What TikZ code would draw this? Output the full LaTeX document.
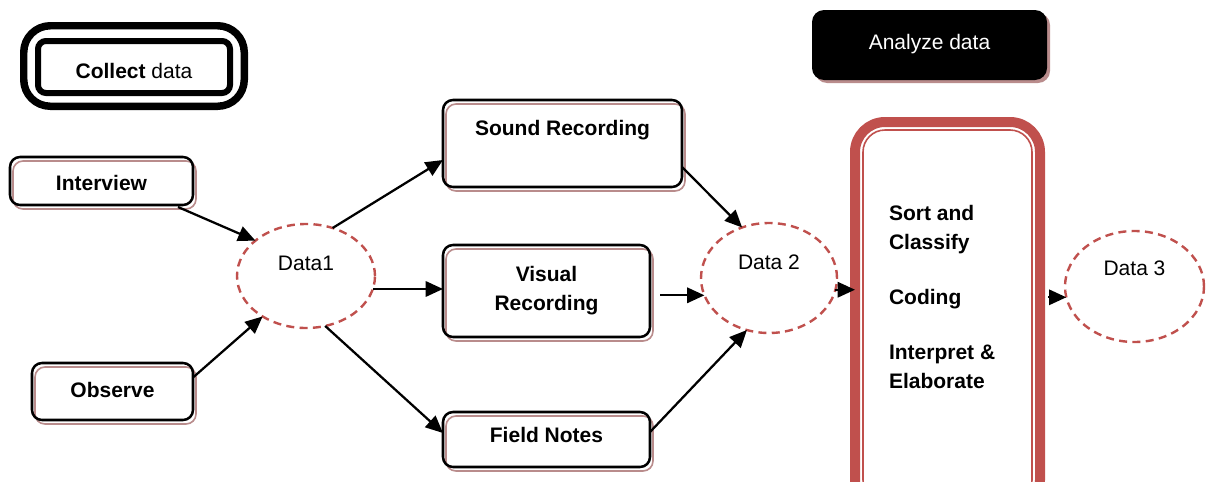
\documentclass[tikz,border=0pt]{standalone}
\usepackage{fontspec}
\setmainfont{Liberation Sans}
\usetikzlibrary{arrows.meta,calc,shapes.geometric}
\definecolor{datared}{RGB}{192,80,77}
\definecolor{shadowbrown}{RGB}{185,140,140}
% shift a one-line label up or down without changing its box size
\newcommand{\lift}[2]{\raisebox{#1}[0pt][0pt]{#2}}

\begin{document}
\begin{tikzpicture}[x=0.75pt,y=-0.75pt,
  every node/.style={inner sep=0pt, outer sep=0pt,
    font=\fontsize{15.75pt}{21.75pt}\selectfont},
  stepbox/.style={draw, line width=1.9pt, rounded corners=7.5pt,
    font=\fontsize{15.75pt}{21.75pt}\selectfont\bfseries, align=center,
    preaction={draw=shadowbrown, line width=1.2pt,
      transform canvas={xshift=2.25pt,yshift=-3pt}}},
  dataell/.style={ellipse, draw=datared, line width=1.8pt,
    dash pattern=on 6pt off 4pt},
  arr/.style={line width=1.7pt, -{Triangle[length=13pt,width=11.5pt]}}]

\fill[white] (0,0) rectangle (1207,482);
\useasboundingbox (0,0) rectangle (1207,482);

% phase headers
\node[draw, line width=5.6pt, rounded corners=20pt,
  minimum width=165.4pt, minimum height=60.4pt] (cframe) at (134,66) {};
\node[draw, line width=4.5pt, rounded corners=6pt,
  minimum width=144pt, minimum height=39pt] (collect) at (134,67)
  {\lift{-8.25pt}{\textbf{Collect} data}};

\node[fill=black, rounded corners=9pt, text=white,
  minimum width=176.25pt, minimum height=52.5pt,
  preaction={fill=shadowbrown, transform canvas={xshift=2.25pt,yshift=-2.25pt}}]
  (analyze) at (929.5,45) {\lift{-3.4pt}{Analyze data}};

% sources
\node[stepbox, minimum width=137.25pt, minimum height=36pt] (int) at (101.5,181)
  {\lift{-7.1pt}{Interview}};
\node[stepbox, minimum width=120.75pt, minimum height=42.75pt] (obs) at (112.5,391.5)
  {\lift{-4.5pt}{Observe}};

% recordings
\node[stepbox, minimum width=179.25pt, minimum height=65.25pt] (snd) at (562.5,143.5)
  {\lift{6pt}{Sound Recording}};
\node[stepbox, minimum width=155.25pt, minimum height=69pt] (vis) at (546.5,291)
  {Visual\\Recording};
\node[stepbox, minimum width=155.25pt, minimum height=41.25pt] (fld) at (546.5,439.5)
  {\lift{-2.25pt}{Field Notes}};

% data states
\node[dataell, minimum width=103.5pt, minimum height=78pt] (d1) at (306,276)
  {\lift{4.1pt}{Data1}};
\node[dataell, minimum width=102pt, minimum height=82.5pt] (d2) at (769,278)
  {\lift{6.4pt}{Data 2}};
\node[dataell, minimum width=104.25pt, minimum height=83.25pt] (d3) at (1134.5,286.5)
  {\lift{8.25pt}{Data 3}};

% analysis block with double red border
\node[draw=datared, line width=7.5pt, rounded corners=22.5pt,
  minimum width=138.75pt, minimum height=291pt] (proc) at (947.5,316) {};
\draw[datared, line width=1.2pt, rounded corners=16.5pt]
  ($(proc.north west)+(8,8)$) rectangle ($(proc.south east)+(-8,-8)$);
\node[anchor=north west, align=left,
  font=\fontsize{15.75pt}{21.75pt}\selectfont\bfseries] (steps) at (889,205)
  {Sort and\\Classify\\[19.5pt]Coding\\[19.5pt]Interpret \&\\Elaborate};

% connectors
\draw[arr] ($(int.south east)+(-15,2)$) -- (d1.145);
\draw[arr] ($(obs.east)+(0,-14)$) -- (d1.223);
\draw[arr] (d1.61) -- ($(snd.west)+(0,16.5)$);
\draw[arr] (d1.-11) -- (d1.-11 -| vis.west);
\draw[arr] (d1.-69) -- ($(fld.west)+(0,-6.5)$);
\draw[arr] ($(snd.east)+(0,23.5)$) -- (d2.118);
\coordinate (vout) at ($(vis.east)+(10,0)$);
\draw[arr] (vout |- d2.195) -- (d2.195);
\draw[arr] ($(fld.east)+(0,-7.5)$) -- (d2.247);
\draw[arr] (d2.-10) -- (d2.-10 -| proc.west);
\coordinate (pout) at ($(proc.east)+(8,0)$);
\draw[arr] (pout |- d3.189) -- (d3.189);
\end{tikzpicture}
\end{document}
